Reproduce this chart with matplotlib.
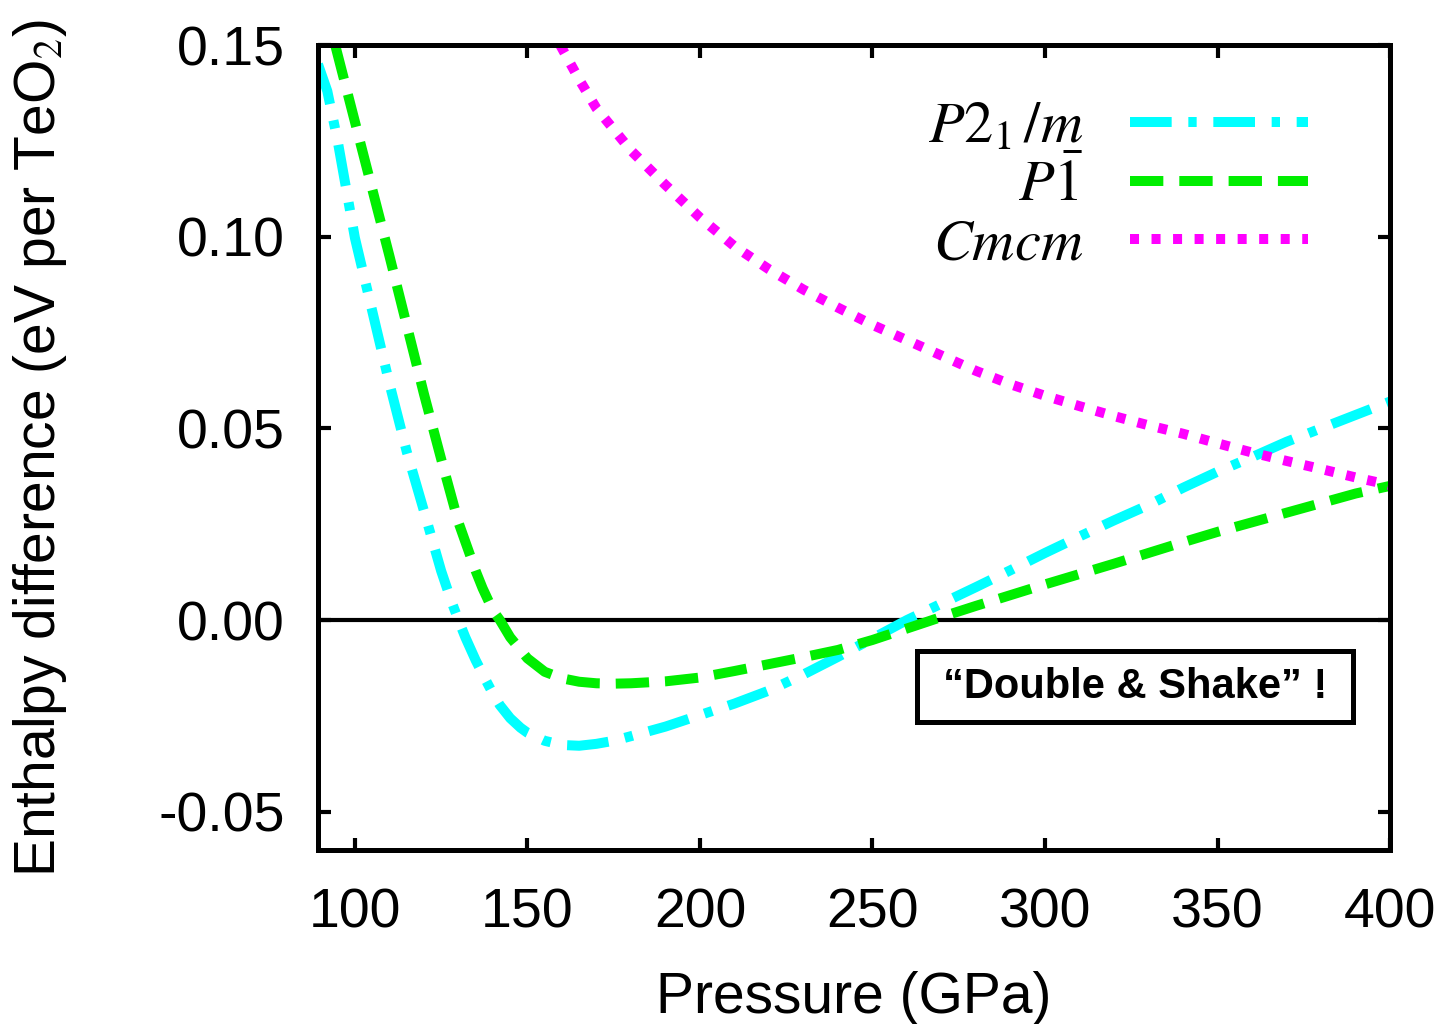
import matplotlib
matplotlib.use('Agg')
import matplotlib.pyplot as plt
from matplotlib.patches import Rectangle
from matplotlib.ticker import FormatStrFormatter

plt.rcParams['font.family'] = ['Liberation Sans', 'DejaVu Sans']
plt.rcParams['mathtext.fontset'] = 'stix'
plt.rcParams['axes.unicode_minus'] = False
plt.rcParams['lines.scale_dashes'] = False

# P2_1/m relative enthalpy
p_p21m = [89.3, 92, 95, 100, 105, 110, 115, 120, 125, 128, 130, 132, 135, 138,
          140, 142, 145, 148, 150, 155, 160, 165, 170, 175, 180, 190, 200, 210,
          220, 230, 240, 250, 260, 270, 280, 290, 300, 310, 320, 330, 340, 350,
          360, 370, 380, 390, 400]
h_p21m = [0.145, 0.138, 0.125, 0.0997, 0.0807, 0.0617, 0.044, 0.0285, 0.0128,
          0.0048, 0.0, -0.0045, -0.0105, -0.0158, -0.0192, -0.0222, -0.0256,
          -0.0281, -0.0294, -0.0315, -0.0326, -0.0328, -0.0323, -0.0315, -0.0303,
          -0.0278, -0.0248, -0.0218, -0.0184, -0.0142, -0.0096, -0.0048, 0.0,
          0.0043, 0.0086, 0.0130, 0.0175, 0.0218, 0.026, 0.030, 0.0345, 0.0387,
          0.0425, 0.0465, 0.050, 0.0535, 0.057]

# P-1
p_p1 = [90, 95, 100, 105, 110, 115, 120, 125, 130, 135, 137, 140, 142, 145, 150,
        155, 160, 165, 170, 175, 180, 190, 200, 210, 220, 230, 240, 250, 260,
        270, 280, 290, 300, 310, 320, 330, 340, 350, 360, 370, 380, 390, 400]
h_p1 = [0.165, 0.1475, 0.130, 0.1125, 0.095, 0.077, 0.059, 0.042, 0.0255,
        0.0128, 0.0083, 0.0025, 0.0, -0.0045, -0.010, -0.0135, -0.0152, -0.0161,
        -0.0165, -0.0166, -0.0165, -0.0160, -0.0150, -0.0133, -0.0115, -0.0097,
        -0.0078, -0.0052, -0.0022, 0.0008, 0.0037, 0.0065, 0.0093, 0.012, 0.0147,
        0.0175, 0.0203, 0.023, 0.0255, 0.028, 0.0305, 0.033, 0.035]

# Cmcm
p_cmcm = [159.5, 165, 170, 180, 190, 200, 210, 220, 230, 240, 250, 260, 270, 280,
          290, 300, 310, 320, 330, 340, 350, 360, 370, 380, 390, 400]
h_cmcm = [0.150, 0.141, 0.1335, 0.1225, 0.1135, 0.105, 0.0975, 0.0915, 0.0862,
          0.0815, 0.077, 0.073, 0.069, 0.065, 0.0615, 0.0585, 0.0558, 0.0532,
          0.0508, 0.0486, 0.0461, 0.0437, 0.0415, 0.0394, 0.0372, 0.0352]

x_ticks = [100, 150, 200, 250, 300, 350, 400]
y_ticks = [-0.05, 0.0, 0.05, 0.10, 0.15]

fig = plt.figure(figsize=(14.48, 10.24), dpi=100)
ax = fig.add_axes([0.2196, 0.1699, 0.7404, 0.7861])

ax.axhline(0, color='black', lw=3, zorder=1)
ax.plot(p_p21m, h_p21m, color='#00ffff', lw=7.2, dashes=(30, 12, 6, 12),
        label=r'$P2_{\mathit{1}}\,/m$')
ax.plot(p_p1, h_p1, color='#00ee00', lw=7.2, dashes=(24, 11.5),
        label=r'$P\bar{1}$')
ax.plot(p_cmcm, h_cmcm, color='#ff00ff', lw=7.2, dashes=(6.5, 9),
        label=r'$Cmcm$')

ax.set_xlim(89.3, 400)
ax.set_ylim(-0.06, 0.15)
ax.set_xticks(x_ticks)
ax.set_yticks(y_ticks)
ax.yaxis.set_major_formatter(FormatStrFormatter('%.2f'))
ax.tick_params(direction='in', length=9, width=3, labelsize=40,
               top=True, right=True)
ax.tick_params(axis='x', pad=27)
ax.tick_params(axis='y', pad=24)
for s in ax.spines.values():
    s.set_linewidth(3.6)

ax.set_xlabel('Pressure (GPa)', fontsize=41)
ax.xaxis.set_label_coords(0.5, -0.15)
ax.set_ylabel(r'Enthalpy difference (eV per TeO$_2$)', fontsize=41)
ax.yaxis.set_label_coords(-0.232, 0.5)

ax.legend(loc='upper right', bbox_to_anchor=(0.9235, 0.931), frameon=False,
          markerfirst=False, fontsize=42, handlelength=3.05,
          handletextpad=0.8, labelspacing=0.07, borderpad=0, borderaxespad=0)

ax.add_patch(Rectangle((0.5588, 0.159), 0.4067, 0.0882, transform=ax.transAxes,
                       fill=False, lw=3.6, ec='black', zorder=5))
ax.text(0.762, 0.203, '\u201cDouble & Shake\u201d !', transform=ax.transAxes,
        fontsize=30, fontweight='bold', ha='center', va='center', zorder=6)

fig.savefig('out.png', dpi=100)
